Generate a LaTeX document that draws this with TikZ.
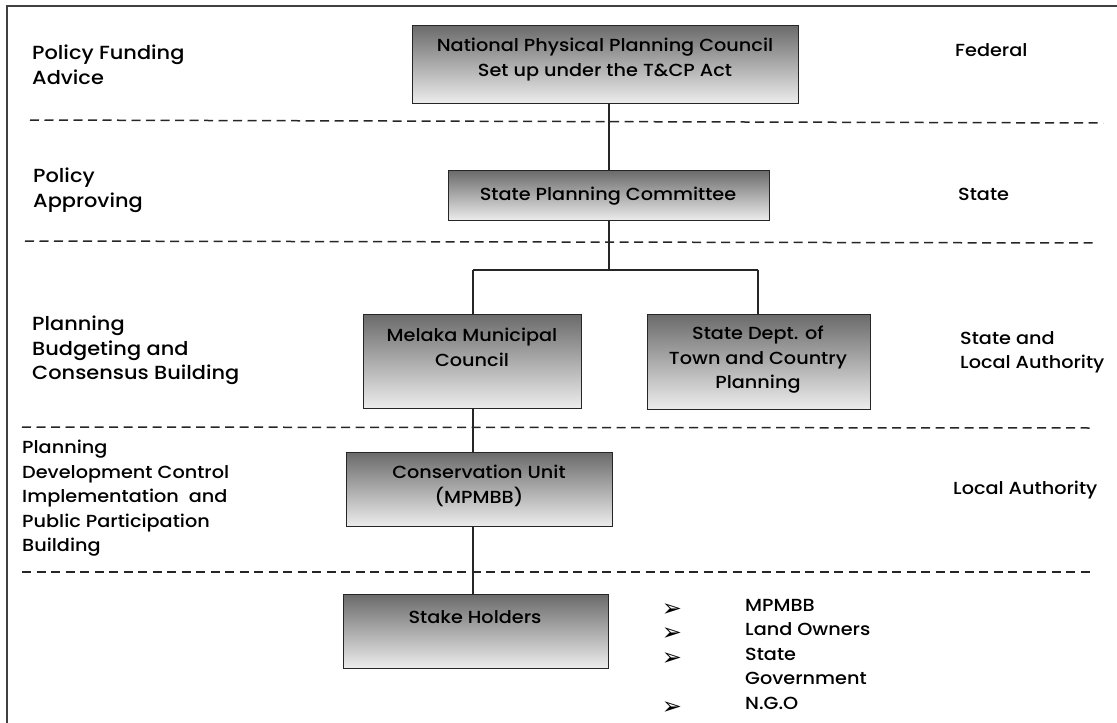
\documentclass[tikz,border=0pt]{standalone}
\usepackage{fontspec}
\setmainfont{Poppins}[FakeStretch=1.1, UprightFont=* Medium]
\newfontfamily\symfont{DejaVu Sans}
\begin{document}
\begin{tikzpicture}[x=1pt,y=-1pt,
  orgbox/.style={draw=black!85, line width=1.3pt, top color=black!58, middle color=black!22, bottom color=black!7, rectangle, inner sep=0pt, anchor=north west},
  txt/.style={inner sep=0pt, font=\fontsize{17.5}{24.5}\selectfont, execute at begin node=\strut},
  boxtext/.style={txt, anchor=north, align=center},
  sidetext/.style={txt, anchor=north west, align=left},
  lefttext/.style={sidetext, font=\fontsize{19}{24.5}\selectfont},
  sep/.style={line width=1.5pt, black!85, dash pattern=on 9pt off 5.5pt},
  conn/.style={line width=1.2pt, black!85}]
\useasboundingbox (0,0) rectangle (1117,723);
\fill[white] (0,0) rectangle (1117,723);
% frame
\draw[line width=2pt, black!75] (7,723) -- (7,6) -- (1117,6);
% separators
\coordinate (s1a) at (30,120); \coordinate (s1b) at (1103,123);
\coordinate (s2a) at (25,241); \coordinate (s2b) at (1097,243);
\coordinate (s3a) at (22,427); \coordinate (s3b) at (1093,428);
\coordinate (s4a) at (22,572); \coordinate (s4b) at (1093,572);
\draw[sep] (s1a) -- (s1b);
\draw[sep] (s2a) -- (s2b);
\draw[sep] (s3a) -- (s3b);
\draw[sep] (s4a) -- (s4b);
% boxes
\node[orgbox, minimum width=386pt, minimum height=78pt] (npc) at (412,25) {};
\node[orgbox, minimum width=321pt, minimum height=50pt] (spc) at (448,170) {};
\node[orgbox, minimum width=218pt, minimum height=94pt] (mmc) at (363,314) {};
\node[orgbox, minimum width=223pt, minimum height=95pt] (sdt) at (647,314) {};
\node[orgbox, minimum width=266pt, minimum height=74pt] (cu) at (346,452) {};
\node[orgbox, minimum width=265pt, minimum height=74pt] (sh) at (343,594) {};
% box texts (y = first baseline - 17.15)
\node[boxtext] (npct) at (605,{55-17.15}) {National Physical Planning Council\\Set up under the T\&CP Act};
\node[boxtext] (spct) at (608,{200-17.15}) {State Planning Committee};
\node[boxtext] (mmct) at (472,{345-17.15}) {Melaka Municipal\\Council};
\node[boxtext] (sdtt) at (758,{343-17.15}) {State Dept. of\\Town and Country\\Planning};
\node[boxtext] (cut) at (479,{482-17.15}) {Conservation Unit\\(MPMBB)};
\node[boxtext] (sht) at (475,{623-17.15}) {Stake Holders};
% connectors
\coordinate (jl) at (473,270);
\coordinate (jr) at (758,270);
\coordinate (jm) at (609,270);
\draw[conn] (npc.south -| jm) -- (spc.north -| jm);
\draw[conn] (spc.south -| jm) -- (jm);
\draw[conn] (jl) -- (jr);
\draw[conn] (jl) -- (mmc.north -| jl);
\draw[conn] (jr) -- (sdt.north -| jr);
\draw[conn] (mmc.south -| jl) -- (cu.north -| jl);
\draw[conn] (cu.south -| jl) -- (sh.north -| jl);
% left labels
\node[lefttext] (l1) at (32,{62-17.15}) {Policy Funding\\Advice};
\node[lefttext] (l2) at (33,{185-17.15}) {Policy\\Approving};
\node[lefttext] (l3) at (32,{333-17.15}) {Planning\\Budgeting and\\Consensus Building};
\node[sidetext] (l4) at (22,{457-17.15}) {Planning\\Development Control\\Implementation\ \ and\\Public Participation\\Building};
% right labels
\node[sidetext] (r1) at (955,{56-17.15}) {Federal};
\node[sidetext] (r2) at (958,{200-17.15}) {State};
\node[sidetext] (r3) at (960,{348-17.15}) {State and\\Local Authority};
\node[sidetext] (r4) at (953,{494-17.15}) {Local Authority};
% bullet list
\foreach \yy/\nm in {610/b1,634/b2,659/b3,708/b4}
  \node[font=\symfont\fontsize{24}{24}\selectfont, inner sep=0pt] (\nm) at (672,\yy) {➢};
\node[sidetext] (lst) at (745,{616-17.15}) {MPMBB\\Land Owners\\State\\Government\\N.G.O};
\end{tikzpicture}
\end{document}
